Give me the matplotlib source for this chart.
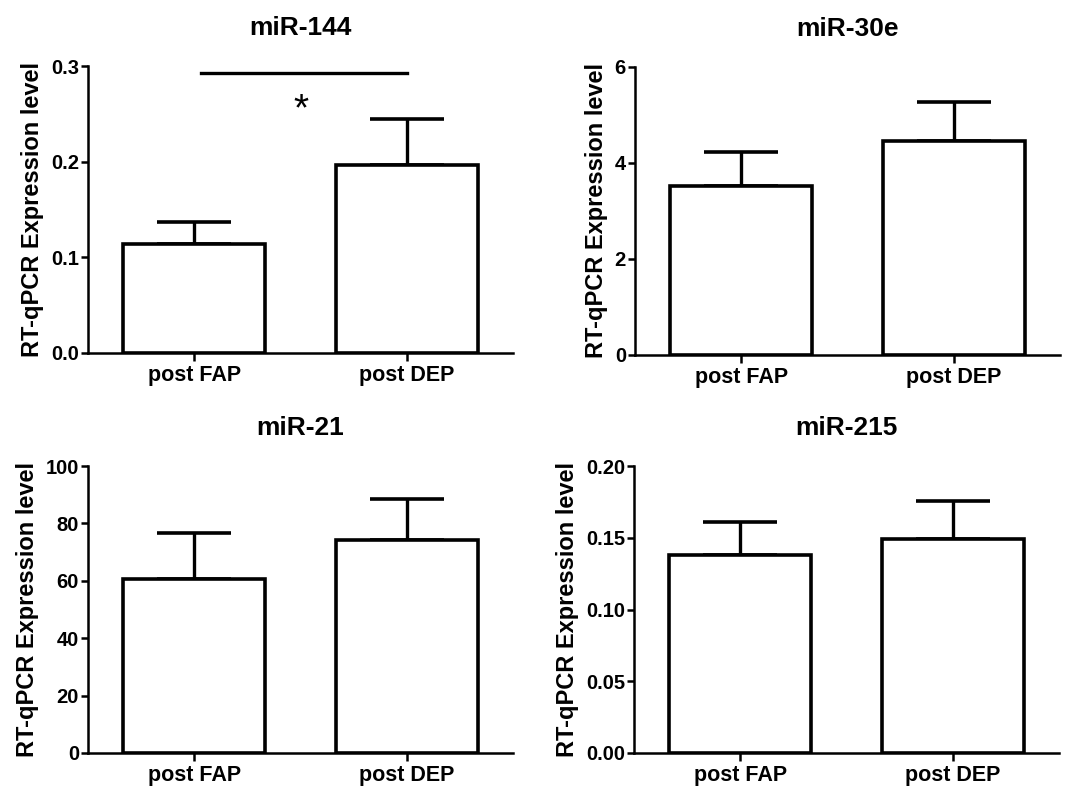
import numpy as np
import matplotlib.pyplot as plt

plt.rcParams['font.family'] = ['Liberation Sans', 'DejaVu Sans']
plt.rcParams['font.weight'] = 'bold'

groups = ["post FAP", "post DEP"]
titles = ["miR-144", "miR-30e", "miR-21", "miR-215"]

mir144_mean = [0.114, 0.196]
mir144_sem = [0.023, 0.049]
mir30e_mean = [3.52, 4.46]
mir30e_sem = [0.71, 0.81]
mir21_mean = [60.6, 74.2]
mir21_sem = [16.1, 14.3]
mir215_mean = [0.138, 0.149]
mir215_sem = [0.023, 0.0266]

ylims = [0.3, 6, 100, 0.20]
yticks = [[0.0, 0.1, 0.2, 0.3], [0, 2, 4, 6], [0, 20, 40, 60, 80, 100],
          [0.00, 0.05, 0.10, 0.15, 0.20]]
ytick_fmt = ["{:.1f}", "{:.0f}", "{:.0f}", "{:.2f}"]

means = [mir144_mean, mir30e_mean, mir21_mean, mir215_mean]
sems = [mir144_sem, mir30e_sem, mir21_sem, mir215_sem]

fig = plt.figure(figsize=(10.66, 7.92), dpi=100)

# axes boxes in pixels: left, bottom(from top), width, height
boxes = [(88, 353, 425, 287), (635, 355, 425, 288),
         (88, 753, 425, 287), (634, 753, 425, 287)]

x = np.arange(len(groups))
for i in range(4):
    l, b, w, h = boxes[i]
    ax = fig.add_axes([l / 1066, (792 - b) / 792, w / 1066, h / 792])
    ax.bar(x, means[i], width=0.667, color="white", edgecolor="black",
           linewidth=2.6, zorder=2)
    ax.errorbar(x, means[i], yerr=[np.zeros(len(x)), sems[i]], fmt="none",
                ecolor="black", elinewidth=2.4, capsize=26.5, capthick=2.6,
                zorder=1)
    ax.set_xlim(-0.5, 1.5)
    ax.set_ylim(0, ylims[i])
    ax.set_yticks(yticks[i])
    ax.set_yticklabels([ytick_fmt[i].format(v) for v in yticks[i]])
    ax.set_xticks(x)
    ax.set_xticklabels(groups)
    for s in ["top", "right"]:
        ax.spines[s].set_visible(False)
    for s in ["left", "bottom"]:
        ax.spines[s].set_linewidth(1.8)
    ax.tick_params(axis="y", width=1.8, length=5, labelsize=14.5, pad=1.5)
    ax.tick_params(axis="x", width=1.8, length=6, labelsize=15.5, pad=3)
    ax.set_ylabel("RT-qPCR Expression level", fontsize=17, fontweight="bold",
                  labelpad=5)
    ax.set_title(titles[i], fontsize=19, fontweight="bold", pad=22)

    if i == 0:
        ax.plot([0.03, 1.0], [0.293, 0.293], color="black", lw=2.4,
                clip_on=False)
        ax.text(0.5, 0.254, "*", ha="center", va="center", fontsize=28,
                fontweight="normal")

fig.savefig("out.png", dpi=100)
